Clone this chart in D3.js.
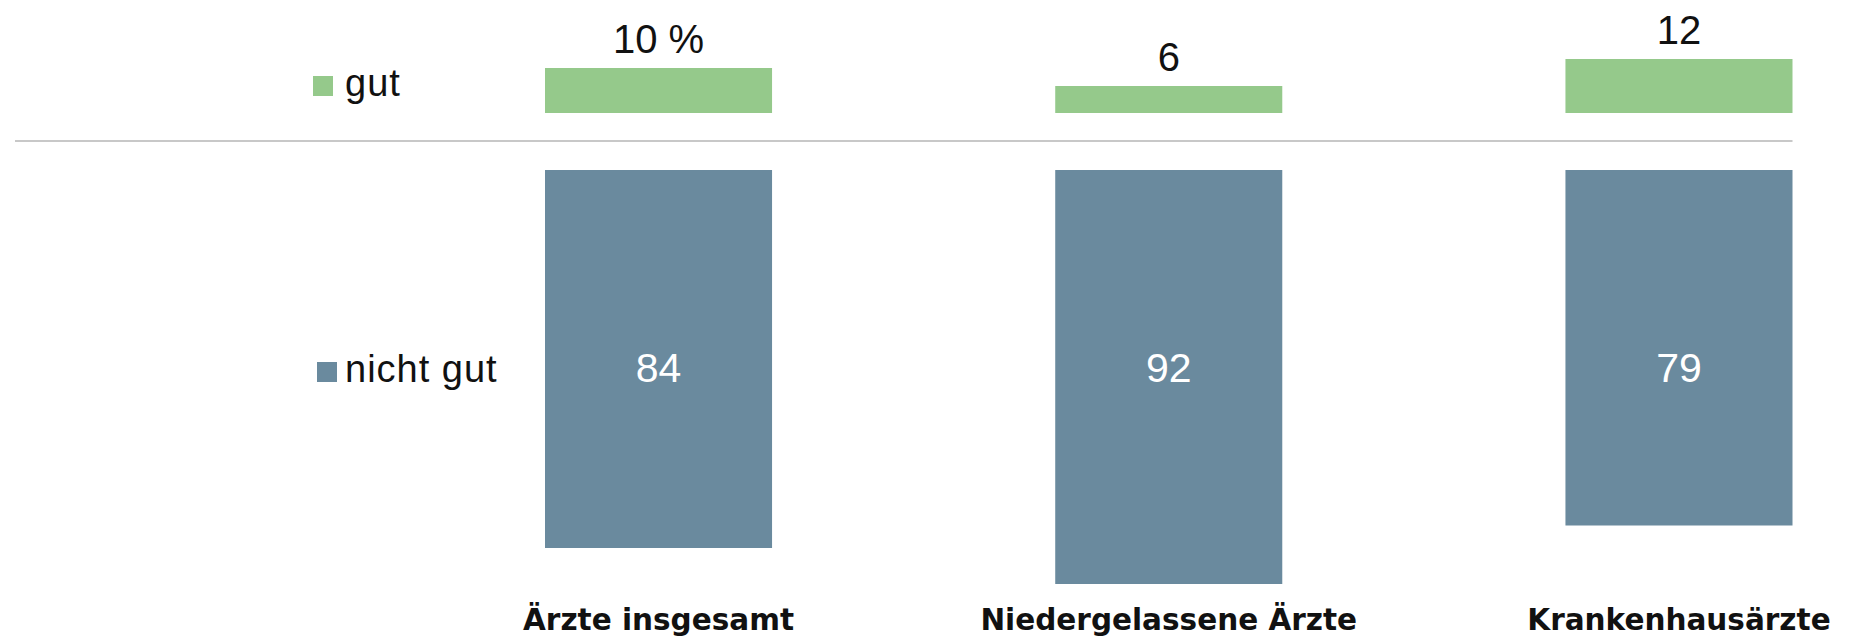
<!DOCTYPE html>
<html>
<head>
<meta charset="utf-8">
<script src="https://cdn.jsdelivr.net/npm/d3@7"></script>
<style>
  html, body { margin: 0; padding: 0; background: #ffffff; }
  svg { display: block; }
</style>
</head>
<body>
<svg id="chart" width="1865" height="641"></svg>
<script>
// ---- data ----
const categories = ["Ärzte insgesamt", "Niedergelassene Ärzte", "Krankenhausärzte"];
const gutValues = [10, 6, 12];
const nichtGutValues = [84, 92, 79];
const gutLabels = ["10 %", "6", "12"];
const nichtGutLabels = ["84", "92", "79"];
const seriesNames = ["gut", "nicht gut"];

// ---- style ----
const colGut = "#95c98b";
const colNicht = "#6a8a9e";
const W = 1865, H = 641;

const svg = d3.select("#chart");

const x = d3.scaleBand()
  .domain(categories)
  .range([545, 1792.5])
  .paddingInner(0.555)
  .paddingOuter(0);

const pxPerUnit = 4.5;
const yGut = d3.scaleLinear().domain([0, 100]).range([113, 113 - 100 * pxPerUnit]);
const yNicht = d3.scaleLinear().domain([0, 100]).range([170, 170 + 100 * pxPerUnit]);

// separator line
svg.append("line")
  .attr("x1", 15).attr("x2", x.range()[1])
  .attr("y1", 141).attr("y2", 141)
  .attr("stroke", "#c8c8c8").attr("stroke-width", 2);

// gut bars
svg.selectAll("rect.gut").data(gutValues).enter().append("rect")
  .attr("class", "gut")
  .attr("x", (d, i) => x(categories[i]))
  .attr("width", x.bandwidth())
  .attr("y", d => yGut(d))
  .attr("height", d => yGut(0) - yGut(d))
  .attr("fill", colGut);

// nicht gut bars
svg.selectAll("rect.nicht").data(nichtGutValues).enter().append("rect")
  .attr("class", "nicht")
  .attr("x", (d, i) => x(categories[i]))
  .attr("width", x.bandwidth())
  .attr("y", yNicht(0))
  .attr("height", d => yNicht(d) - yNicht(0))
  .attr("fill", colNicht);

const regFont = "'Liberation Sans', Arial, sans-serif";

// gut labels above bars
svg.selectAll("text.gutlab").data(gutValues).enter().append("text")
  .attr("class", "gutlab")
  .attr("x", (d, i) => x(categories[i]) + x.bandwidth() / 2)
  .attr("y", d => yGut(d) - 15)
  .attr("text-anchor", "middle")
  .attr("font-family", regFont)
  .attr("font-size", 40)
  .attr("fill", "#111")
  .text((d, i) => gutLabels[i]);

// nicht gut labels inside bars (fixed row, aligned with legend)
const rowNicht = 382;
const rowGut = 96;
svg.selectAll("text.nichtlab").data(nichtGutValues).enter().append("text")
  .attr("class", "nichtlab")
  .attr("x", (d, i) => x(categories[i]) + x.bandwidth() / 2)
  .attr("y", rowNicht)
  .attr("text-anchor", "middle")
  .attr("font-family", regFont)
  .attr("font-size", 41)
  .attr("fill", "#ffffff")
  .text((d, i) => nichtGutLabels[i]);

// legend
const legend = [
  { name: seriesNames[0], color: colGut, y: rowGut, sx: 313 },
  { name: seriesNames[1], color: colNicht, y: rowNicht, sx: 317 }
];
legend.forEach(l => {
  svg.append("rect")
    .attr("x", l.sx).attr("y", l.y - 20)
    .attr("width", 20).attr("height", 20)
    .attr("fill", l.color);
  svg.append("text")
    .attr("x", 345).attr("y", l.y)
    .attr("font-family", regFont)
    .attr("font-size", 38)
    .attr("letter-spacing", 1)
    .attr("fill", "#111")
    .text(l.name);
});

// category labels
svg.selectAll("text.cat").data(categories).enter().append("text")
  .attr("class", "cat")
  .attr("x", d => x(d) + x.bandwidth() / 2)
  .attr("y", 630)
  .attr("text-anchor", "middle")
  .attr("font-family", "'DejaVu Sans', sans-serif")
  .attr("font-weight", "bold")
  .attr("font-size", 29.5)
  .attr("fill", "#111")
  .text(d => d);
</script>
</body>
</html>
